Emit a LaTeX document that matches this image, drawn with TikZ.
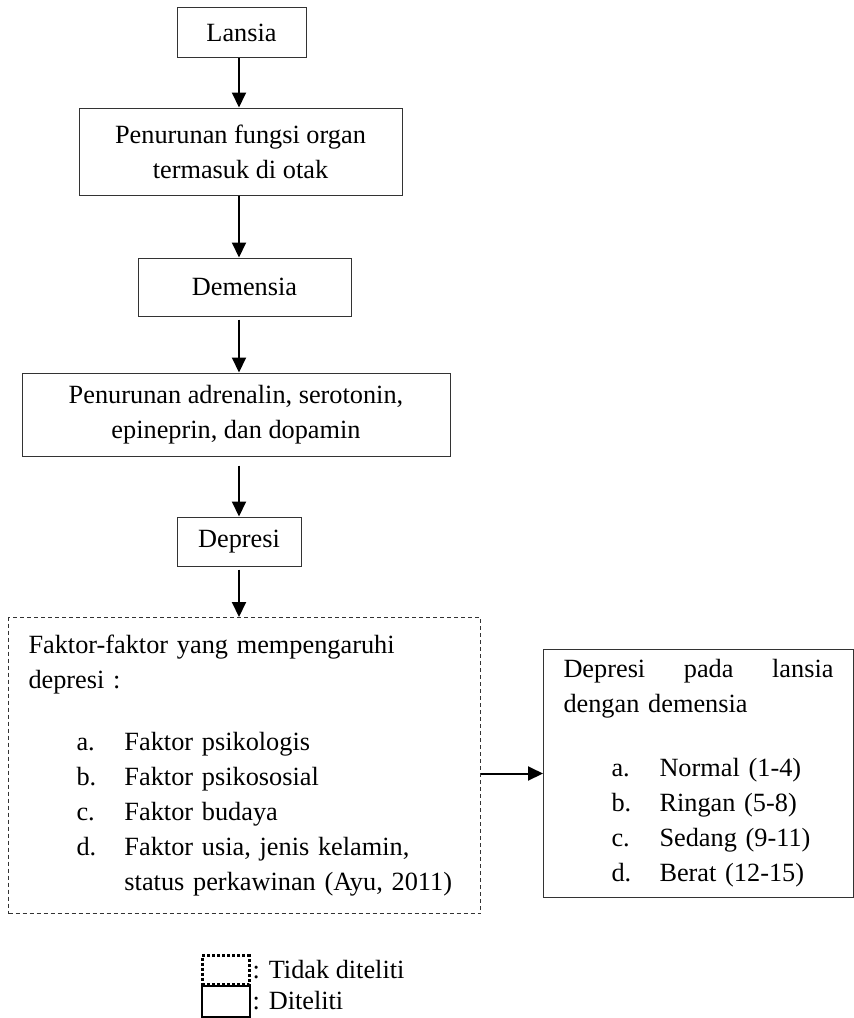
\documentclass[tikz,border=0pt]{standalone}
\usepackage{fontspec}
\setmainfont{Liberation Serif}
\usetikzlibrary{arrows.meta,positioning,calc}

\newcommand{\listitem}[2]{\hspace*{48pt}\makebox[48pt][l]{#1}#2}

\begin{document}
\begin{tikzpicture}[x=1pt,y=-1pt,
        font=\fontsize{26.3}{35}\selectfont,
        box/.style={draw=black!80, line width=1pt, inner sep=0pt, align=center},
        tbox/.style={draw=black!80, line width=1pt, dash pattern=on 4pt off 3pt, inner sep=0pt},
        flow/.style={line width=2pt, -{Triangle[length=15pt,width=14pt]}}]

        \useasboundingbox (0,0) rectangle (854,1018);

        % Define the axis of the arrows
        \coordinate (axis) at (239,0);

        % draw the chain of boxes
        \node[box, minimum width=129pt, minimum height=50pt] (lansia) at (241.5,32.5) {Lansia};
        \node[box, minimum width=323pt, minimum height=87pt] (organ) at (240.5,151.5) {Penurunan fungsi organ\\termasuk di otak};
        \node[box, minimum width=213pt, minimum height=58pt] (demensia) at (244.5,287) {Demensia};
        \node[box, minimum width=428pt, minimum height=83pt] (hormon) at (236,414.5) {Penurunan adrenalin, serotonin,\\epineprin, dan dopamin};
        \node[box, minimum width=124pt, minimum height=49pt] (depresi) at (239,541.5) {Depresi};

        % draw the connecting arrows
        \draw[flow] (axis |- lansia.south) -- (axis |- organ.north);
        \draw[flow] (axis |- organ.south) -- (axis |- demensia.north);
        \draw[flow, shorten <=3pt] (axis |- demensia.south) -- (axis |- hormon.north);
        \draw[flow, shorten <=9pt] (axis |- hormon.south) -- (axis |- depresi.north);
        \draw[flow, shorten <=3pt] (axis |- depresi.south) -- (axis |- 0,617);

        % draw the factor box (dashed)
        \node[tbox, minimum width=472pt, minimum height=296pt, text width=432pt, align=left, anchor=north west] (faktor) at (8,617) {%
            Faktor-faktor yang mempengaruhi\\
            depresi :\\[27pt]
            \listitem{a.}{Faktor psikologis}\\
            \listitem{b.}{Faktor psikososial}\\
            \listitem{c.}{Faktor budaya}\\
            \listitem{d.}{Faktor usia, jenis kelamin,}\\
            \hspace*{96pt}status perkawinan (Ayu, 2011)};

        % draw the result box
        \node[box, minimum width=310pt, minimum height=248pt, text width=270pt, align=left, anchor=north west] (hasil) at (543,649) {%
            \hbox to 270pt{Depresi\hfill pada\hfill lansia}\\
            dengan demensia\\[29pt]
            \listitem{a.}{Normal (1-4)}\\
            \listitem{b.}{Ringan (5-8)}\\
            \listitem{c.}{Sedang (9-11)}\\
            \listitem{d.}{Berat (12-15)}};

        % draw the connecting arrow
        \draw[flow] (faktor.east |- hasil.west) -- (hasil.west);

        % add the legend
        \node[draw, line width=3pt, dash pattern=on 3pt off 2pt, minimum width=47pt, minimum height=29pt, inner sep=0pt] (key1) at (225.5,970) {};
        \node[draw, line width=2pt, minimum width=48pt, minimum height=31pt, inner sep=0pt] (key2) at (225.5,1001) {};
        \node[anchor=west, inner sep=2pt] (key1txt) at (key1.east) {: Tidak diteliti};
        \node[anchor=west, inner sep=2pt] (key2txt) at (key2.east) {: Diteliti};

      \end{tikzpicture}
\end{document}
